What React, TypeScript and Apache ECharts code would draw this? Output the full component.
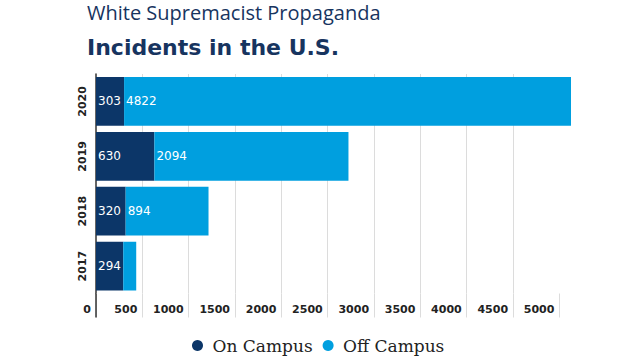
import React, { useEffect, useRef } from "react";
import * as echarts from "echarts";

const years = ["2017", "2018", "2019", "2020"];
const onCampus = [294, 320, 630, 303];
const offCampus = [140, 894, 2094, 4822];
const xTicks = [0, 500, 1000, 1500, 2000, 2500, 3000, 3500, 4000, 4500, 5000];
const xMax = 5125;
const titleLine1 = "White Supremacist Propaganda";
const titleLine2 = "Incidents in the U.S.";
const seriesNames = ["On Campus", "Off Campus"];

const DARK = "#0c3668";
const LIGHT = "#009fdf";
const NAVY = "#17345f";

export default function App() {
  const ref = useRef<HTMLDivElement>(null);
  useEffect(() => {
    if (!ref.current) return;
    const chart = echarts.init(ref.current, undefined, { renderer: "svg" });
    const labelStyle = {
      show: true,
      position: "insideLeft",
      distance: 2,
      color: "#fff",
      fontFamily: "DejaVu Sans",
      fontSize: 12,
    };
    chart.setOption({
      animation: false,
      backgroundColor: "#fff",
      title: [
        {
          text: titleLine1,
          left: 87,
          top: 1,
          padding: 0,
          textStyle: {
            fontFamily: "Open Sans",
            fontWeight: "normal",
            fontSize: 20,
            lineHeight: 22,
            color: NAVY,
          },
        },
        {
          text: titleLine2,
          left: 87,
          top: 36,
          padding: 0,
          textStyle: {
            fontFamily: "DejaVu Sans",
            fontWeight: "bold",
            fontSize: 22,
            lineHeight: 22,
            color: NAVY,
          },
        },
      ],
      legend: {
        left: 192,
        top: 337,
        icon: "circle",
        itemWidth: 20,
        itemHeight: 11,
        itemGap: 10,
        padding: 0,
        data: seriesNames,
        textStyle: { fontFamily: "DejaVu Serif", fontSize: 17, color: "#222" },
      },
      grid: { left: 96, right: 69, top: 74, bottom: 66.5, containLabel: false },
      xAxis: [
        {
          type: "value",
          min: 0,
          max: xMax,
          interval: 500,
          axisLine: { show: false },
          axisTick: {
            show: true,
            length: 24,
            customValues: xTicks,
            lineStyle: { color: "#dcdcdc" },
          },
          splitLine: {
            show: true,
            showMinLine: false,
            showMaxLine: false,
            lineStyle: { color: "#dcdcdc" },
          },
          axisLabel: {
            customValues: xTicks,
            formatter: (v: number) => String(v),
            align: "right",
            padding: [0, 5, 0, 0],
            margin: 10,
            fontFamily: "DejaVu Sans",
            fontWeight: "bold",
            fontSize: 11,
            color: "#222",
          },
        },
        {
          type: "value",
          min: 0,
          max: xMax,
          position: "bottom",
          offset: 0,
          axisLine: { show: false },
          axisLabel: { show: false },
          splitLine: { show: false },
          axisTick: {
            show: true,
            customValues: [0],
            length: 24,
            lineStyle: { color: "#333", width: 1.5 },
          },
        },
      ],
      yAxis: {
        type: "category",
        data: years,
        axisLine: { show: true, lineStyle: { color: "#333", width: 1.5 } },
        axisTick: { show: false },
        splitLine: { show: false },
        axisLabel: {
          rotate: 90,
          margin: 8,
          fontFamily: "DejaVu Sans",
          fontWeight: "bold",
          fontSize: 11,
          color: "#222",
        },
      },
      series: [
        {
          name: seriesNames[0],
          type: "bar",
          stack: "total",
          barCategoryGap: "11%",
          data: onCampus,
          itemStyle: { color: DARK },
          label: labelStyle,
        },
        {
          name: seriesNames[1],
          type: "bar",
          stack: "total",
          barCategoryGap: "11%",
          data: offCampus.map((v) => ({ value: v, label: { show: v >= 200 } })),
          itemStyle: { color: LIGHT },
          label: labelStyle,
        },
      ],
    });
    return () => chart.dispose();
  }, []);
  return (
    <div
      ref={ref}
      style={{ position: "fixed", left: 0, top: 0, width: 640, height: 360, background: "#fff" }}
    />
  );
}
